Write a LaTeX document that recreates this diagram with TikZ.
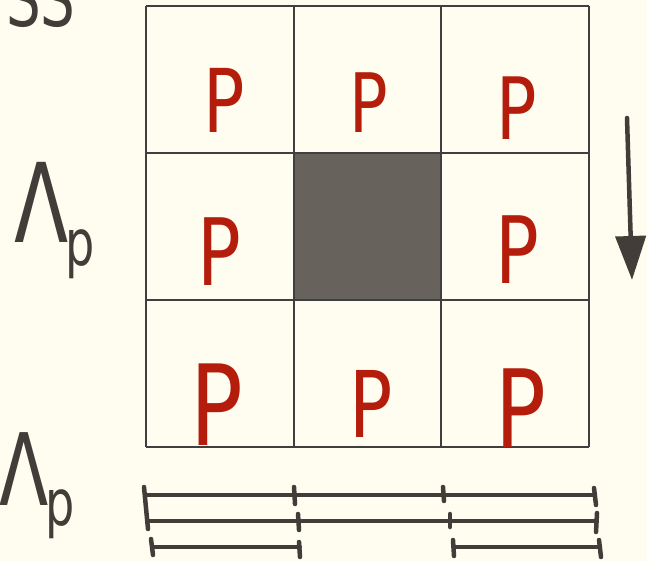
\documentclass[tikz,border=0pt]{standalone}
\usepackage{fontspec}
\setmainfont{DejaVu Sans}
\usetikzlibrary{arrows.meta}
\definecolor{bg}{HTML}{FFFCF0}
\definecolor{ink}{HTML}{433D39}
\definecolor{redp}{HTML}{B41D0C}
\definecolor{cellfill}{HTML}{67625C}
\definecolor{gridc}{HTML}{3F3F3F}
\tikzset{
  gridline/.style={draw=gridc, line width=1.5pt},
  pletter/.style={text=redp, inner sep=0pt, anchor=base, xscale=0.78, transform shape},
  handlabel/.style={text=ink, inner sep=0pt, anchor=base west, xscale=0.72, transform shape},
  seg/.style={draw=ink, line width=4pt, line cap=round},
  tick/.style={draw=ink, line width=4.5pt, line cap=round}
}
\newcommand{\pf}[1]{\fontsize{#1}{#1}\selectfont}
\begin{document}
\begin{tikzpicture}[x=1pt,y=-1pt]
\fill[bg] (0,0) rectangle (647,561);
\useasboundingbox (0,0) rectangle (647,561);
% grid
\fill[cellfill] (294,153) rectangle (441,300);
\foreach \x in {146,294,441,589} \draw[gridline] (\x,6) -- (\x,447);
\foreach \y in {6,153,300,447} \draw[gridline] (146,\y) -- (589,\y);
% P letters
\node[pletter, font=\pf{88}] (p11) at (224,133) {P};
\node[pletter, font=\pf{82}] (p12) at (369,133) {P};
\node[pletter, font=\pf{86}] (p13) at (517,140) {P};
\node[pletter, font=\pf{93}] (p21) at (219,285) {P};
\node[pletter, font=\pf{93}] (p23) at (517,283) {P};
\node[pletter, font=\pf{112}] (p31) at (217,445) {P};
\node[pletter, font=\pf{92}] (p32) at (371,437) {P};
\node[pletter, font=\pf{108}] (p33) at (521,447) {P};
% labels
\node[handlabel, font=\pf{76}] (ss) at (6,27) {SS};
\node[handlabel, font=\pf{110}] (lam1) at (14,243) {Λ\kern-4pt\raisebox{-22pt}{\pf{64}p}};
\node[handlabel, font=\pf{100}] (lam2) at (-1,505) {Λ\kern-4pt\raisebox{-20pt}{\pf{64}p}};
% arrow
\coordinate (a1) at (627,118);
\coordinate (a2) at (632,280);
\draw[draw=ink, line width=4.5pt, line cap=round, -{Triangle[length=44pt,width=30pt]}] (a1) -- (a2);
% bottom segments
\coordinate (r1a) at (146,495); \coordinate (r1b) at (595,495);
\draw[seg] (r1a) -- (r1b);
\coordinate (r2a) at (148,521); \coordinate (r2b) at (596,521);
\draw[seg] (r2a) -- (r2b);
\coordinate (r3a) at (152,547); \coordinate (r3b) at (300,547);
\draw[seg] (r3a) -- (r3b);
\coordinate (r3c) at (454,547); \coordinate (r3d) at (600,547);
\draw[seg] (r3c) -- (r3d);
% ticks
\draw[tick] (144,487) -- (148,529);
\draw[tick] (294,487) -- (295,504);
\draw[tick] (443,487) -- (444,501);
\draw[tick] (594,488) -- (596,505);
\draw[tick] (298,514) -- (299,530);
\draw[tick] (450,514) -- (450,527);
\draw[tick] (597,513) -- (596,532);
\draw[tick] (151,539) -- (153,555);
\draw[tick] (299,542) -- (300,557);
\draw[tick] (453,540) -- (454,556);
\draw[tick] (599,540) -- (601,557);
\end{tikzpicture}
\end{document}
